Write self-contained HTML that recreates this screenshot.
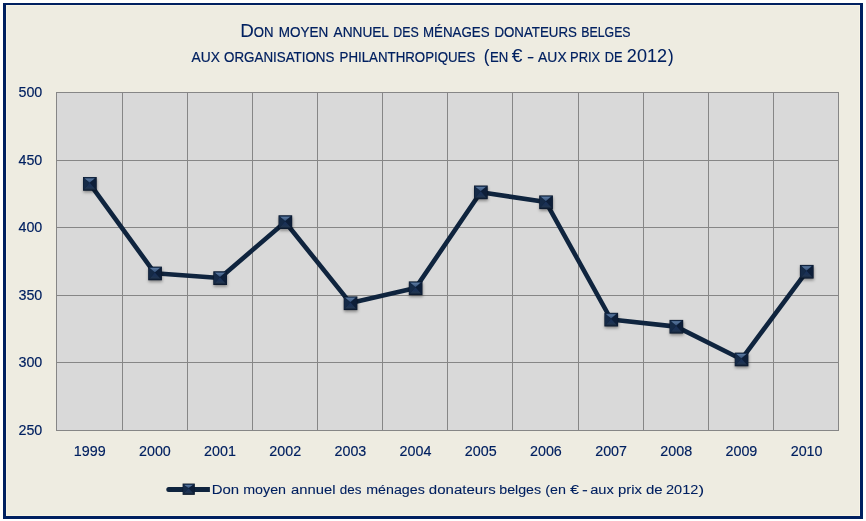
<!DOCTYPE html>
<html lang="fr">
<head>
<meta charset="utf-8">
<title>Don moyen annuel des ménages donateurs belges</title>
<style>
html,body{margin:0;padding:0;background:#ffffff;}
body{width:866px;height:521px;overflow:hidden;}
svg{display:block;}
text{font-family:"Liberation Sans",sans-serif;fill:#002060;stroke:#002060;stroke-width:0.2px;}
.ax text{stroke-width:0.15px;}
tspan.b{stroke-width:0.05px;}
text.lg{stroke-width:0.08px;}
</style>
</head>
<body>
<svg width="866" height="521" viewBox="0 0 866 521">
<defs>
<linearGradient id="gt" x1="0" y1="0" x2="0" y2="1"><stop offset="0" stop-color="#5c7aa0"/><stop offset="1" stop-color="#36527a"/></linearGradient>
<linearGradient id="gb" x1="0" y1="0" x2="0" y2="1"><stop offset="0" stop-color="#18305a"/><stop offset="0.5" stop-color="#1b3154"/><stop offset="0.72" stop-color="#21354f"/><stop offset="1" stop-color="#0e1c31"/></linearGradient>
<filter id="sh" x="-30%" y="-30%" width="170%" height="170%"><feGaussianBlur stdDeviation="1.4"/></filter>
</defs>

<rect x="0" y="0" width="866" height="521" fill="#ffffff"/>
<rect x="3" y="3" width="860" height="516" fill="#002060" shape-rendering="crispEdges"/>
<rect x="6" y="5" width="854" height="511" fill="#f6f3e6" shape-rendering="crispEdges"/>
<rect x="7" y="6" width="852" height="509" fill="#eeece1" shape-rendering="crispEdges"/>
<rect x="56" y="92" width="783" height="339" fill="#d9d9d9" shape-rendering="crispEdges"/>
<g fill="#868686" shape-rendering="crispEdges">
<rect x="56" y="92" width="1" height="339"/>
<rect x="122" y="92" width="1" height="339"/>
<rect x="187" y="92" width="1" height="339"/>
<rect x="252" y="92" width="1" height="339"/>
<rect x="317" y="92" width="1" height="339"/>
<rect x="382" y="92" width="1" height="339"/>
<rect x="447" y="92" width="1" height="339"/>
<rect x="512" y="92" width="1" height="339"/>
<rect x="578" y="92" width="1" height="339"/>
<rect x="643" y="92" width="1" height="339"/>
<rect x="708" y="92" width="1" height="339"/>
<rect x="773" y="92" width="1" height="339"/>
<rect x="838" y="92" width="1" height="339"/>
<rect x="56" y="92" width="783" height="1"/>
<rect x="56" y="160" width="783" height="1"/>
<rect x="56" y="227" width="783" height="1"/>
<rect x="56" y="295" width="783" height="1"/>
<rect x="56" y="362" width="783" height="1"/>
<rect x="56" y="430" width="783" height="1"/>
</g>
<text y="36.8" font-size="13.9"><tspan x="240.20" font-size="18.1" class="b" textLength="13.59" lengthAdjust="spacingAndGlyphs">D</tspan><tspan x="253.74" textLength="19.73" lengthAdjust="spacingAndGlyphs">ON</tspan> <tspan x="278.68" textLength="49.49" lengthAdjust="spacingAndGlyphs">MOYEN</tspan> <tspan x="333.53" textLength="54.96" lengthAdjust="spacingAndGlyphs">ANNUEL</tspan> <tspan x="393.26" textLength="25.44" lengthAdjust="spacingAndGlyphs">DES</tspan> <tspan x="422.97" textLength="66.58" lengthAdjust="spacingAndGlyphs">MÉNAGES</tspan> <tspan x="494.41" textLength="82.52" lengthAdjust="spacingAndGlyphs">DONATEURS</tspan> <tspan x="581.36" textLength="49.18" lengthAdjust="spacingAndGlyphs">BELGES</tspan></text>
<text y="61.6" font-size="13.9"><tspan x="191.60" textLength="28.33" lengthAdjust="spacingAndGlyphs">AUX</tspan> <tspan x="224.05" textLength="110.33" lengthAdjust="spacingAndGlyphs">ORGANISATIONS</tspan> <tspan x="339.61" textLength="135.68" lengthAdjust="spacingAndGlyphs">PHILANTHROPIQUES</tspan> <tspan x="483.80" font-size="18.1" class="b" textLength="5.65" lengthAdjust="spacingAndGlyphs">(</tspan><tspan x="490.04" textLength="18.25" lengthAdjust="spacingAndGlyphs">EN</tspan> <tspan x="511.86" font-size="18.1" class="b" textLength="10.66" lengthAdjust="spacingAndGlyphs">€</tspan> <tspan x="527.07" textLength="7.14" lengthAdjust="spacingAndGlyphs">-</tspan> <tspan x="538.12" textLength="28.52" lengthAdjust="spacingAndGlyphs">AUX</tspan> <tspan x="570.04" textLength="30.20" lengthAdjust="spacingAndGlyphs">PRIX</tspan> <tspan x="604.87" textLength="17.67" lengthAdjust="spacingAndGlyphs">DE</tspan> <tspan x="626.86" font-size="18.1" class="b" textLength="40.18" lengthAdjust="spacingAndGlyphs">2012</tspan><tspan x="667.95" font-size="18.1" class="b" textLength="5.65" lengthAdjust="spacingAndGlyphs">)</tspan></text>
<g font-size="14.3" text-anchor="end" class="ax">
<text x="42.3" y="97.0">500</text>
<text x="42.3" y="164.6">450</text>
<text x="42.3" y="232.2">400</text>
<text x="42.3" y="299.8">350</text>
<text x="42.3" y="367.4">300</text>
<text x="42.3" y="435.0">250</text>
</g>
<g font-size="14.3" text-anchor="middle" class="ax">
<text x="89.7" y="455.7">1999</text>
<text x="154.9" y="455.7">2000</text>
<text x="220.0" y="455.7">2001</text>
<text x="285.2" y="455.7">2002</text>
<text x="350.4" y="455.7">2003</text>
<text x="415.5" y="455.7">2004</text>
<text x="480.7" y="455.7">2005</text>
<text x="545.9" y="455.7">2006</text>
<text x="611.1" y="455.7">2007</text>
<text x="676.2" y="455.7">2008</text>
<text x="741.4" y="455.7">2009</text>
<text x="806.6" y="455.7">2010</text>
</g>
<polyline points="89.7,183.7 154.9,273.3 220.0,278.0 285.2,222.0 350.4,303.1 415.5,288.1 480.7,192.2 545.9,202.1 611.1,319.5 676.2,326.6 741.4,359.3 806.6,271.6" fill="none" stroke="#0f243e" stroke-width="4.6" stroke-linejoin="round" stroke-linecap="round"/>
<g filter="url(#sh)" fill="#000000" fill-opacity="0.38">
<rect x="83.35" y="178.75" width="13.7" height="13.7"/>
<rect x="148.55" y="268.35" width="13.7" height="13.7"/>
<rect x="213.65" y="273.05" width="13.7" height="13.7"/>
<rect x="278.85" y="217.05" width="13.7" height="13.7"/>
<rect x="344.05" y="298.15" width="13.7" height="13.7"/>
<rect x="409.15" y="283.15" width="13.7" height="13.7"/>
<rect x="474.35" y="187.25" width="13.7" height="13.7"/>
<rect x="539.55" y="197.15" width="13.7" height="13.7"/>
<rect x="604.75" y="314.55" width="13.7" height="13.7"/>
<rect x="669.85" y="321.65" width="13.7" height="13.7"/>
<rect x="735.05" y="354.35" width="13.7" height="13.7"/>
<rect x="800.25" y="266.65" width="13.7" height="13.7"/>
</g>
<g><rect x="83.00" y="177.00" width="13.70" height="13.70" fill="#0b192e"/><polygon points="83.50,177.50 89.65,182.85 83.50,190.20" fill="#152a47"/><polygon points="96.20,177.50 89.65,182.85 96.20,190.20" fill="#0d1e38"/><polygon points="83.50,190.20 89.65,182.85 96.20,190.20" fill="url(#gb)"/><polygon points="83.50,177.50 89.65,182.85 96.20,177.50" fill="#1b3354"/><polygon points="84.70,178.40 94.50,178.40 89.65,182.55" fill="url(#gt)"/></g>
<g><rect x="148.20" y="266.60" width="13.70" height="13.70" fill="#0b192e"/><polygon points="148.70,267.10 154.85,272.45 148.70,279.80" fill="#152a47"/><polygon points="161.40,267.10 154.85,272.45 161.40,279.80" fill="#0d1e38"/><polygon points="148.70,279.80 154.85,272.45 161.40,279.80" fill="url(#gb)"/><polygon points="148.70,267.10 154.85,272.45 161.40,267.10" fill="#1b3354"/><polygon points="149.90,268.00 159.70,268.00 154.85,272.15" fill="url(#gt)"/></g>
<g><rect x="213.30" y="271.30" width="13.70" height="13.70" fill="#0b192e"/><polygon points="213.80,271.80 219.95,277.15 213.80,284.50" fill="#152a47"/><polygon points="226.50,271.80 219.95,277.15 226.50,284.50" fill="#0d1e38"/><polygon points="213.80,284.50 219.95,277.15 226.50,284.50" fill="url(#gb)"/><polygon points="213.80,271.80 219.95,277.15 226.50,271.80" fill="#1b3354"/><polygon points="215.00,272.70 224.80,272.70 219.95,276.85" fill="url(#gt)"/></g>
<g><rect x="278.50" y="215.30" width="13.70" height="13.70" fill="#0b192e"/><polygon points="279.00,215.80 285.15,221.15 279.00,228.50" fill="#152a47"/><polygon points="291.70,215.80 285.15,221.15 291.70,228.50" fill="#0d1e38"/><polygon points="279.00,228.50 285.15,221.15 291.70,228.50" fill="url(#gb)"/><polygon points="279.00,215.80 285.15,221.15 291.70,215.80" fill="#1b3354"/><polygon points="280.20,216.70 290.00,216.70 285.15,220.85" fill="url(#gt)"/></g>
<g><rect x="343.70" y="296.40" width="13.70" height="13.70" fill="#0b192e"/><polygon points="344.20,296.90 350.35,302.25 344.20,309.60" fill="#152a47"/><polygon points="356.90,296.90 350.35,302.25 356.90,309.60" fill="#0d1e38"/><polygon points="344.20,309.60 350.35,302.25 356.90,309.60" fill="url(#gb)"/><polygon points="344.20,296.90 350.35,302.25 356.90,296.90" fill="#1b3354"/><polygon points="345.40,297.80 355.20,297.80 350.35,301.95" fill="url(#gt)"/></g>
<g><rect x="408.80" y="281.40" width="13.70" height="13.70" fill="#0b192e"/><polygon points="409.30,281.90 415.45,287.25 409.30,294.60" fill="#152a47"/><polygon points="422.00,281.90 415.45,287.25 422.00,294.60" fill="#0d1e38"/><polygon points="409.30,294.60 415.45,287.25 422.00,294.60" fill="url(#gb)"/><polygon points="409.30,281.90 415.45,287.25 422.00,281.90" fill="#1b3354"/><polygon points="410.50,282.80 420.30,282.80 415.45,286.95" fill="url(#gt)"/></g>
<g><rect x="474.00" y="185.50" width="13.70" height="13.70" fill="#0b192e"/><polygon points="474.50,186.00 480.65,191.35 474.50,198.70" fill="#152a47"/><polygon points="487.20,186.00 480.65,191.35 487.20,198.70" fill="#0d1e38"/><polygon points="474.50,198.70 480.65,191.35 487.20,198.70" fill="url(#gb)"/><polygon points="474.50,186.00 480.65,191.35 487.20,186.00" fill="#1b3354"/><polygon points="475.70,186.90 485.50,186.90 480.65,191.05" fill="url(#gt)"/></g>
<g><rect x="539.20" y="195.40" width="13.70" height="13.70" fill="#0b192e"/><polygon points="539.70,195.90 545.85,201.25 539.70,208.60" fill="#152a47"/><polygon points="552.40,195.90 545.85,201.25 552.40,208.60" fill="#0d1e38"/><polygon points="539.70,208.60 545.85,201.25 552.40,208.60" fill="url(#gb)"/><polygon points="539.70,195.90 545.85,201.25 552.40,195.90" fill="#1b3354"/><polygon points="540.90,196.80 550.70,196.80 545.85,200.95" fill="url(#gt)"/></g>
<g><rect x="604.40" y="312.80" width="13.70" height="13.70" fill="#0b192e"/><polygon points="604.90,313.30 611.05,318.65 604.90,326.00" fill="#152a47"/><polygon points="617.60,313.30 611.05,318.65 617.60,326.00" fill="#0d1e38"/><polygon points="604.90,326.00 611.05,318.65 617.60,326.00" fill="url(#gb)"/><polygon points="604.90,313.30 611.05,318.65 617.60,313.30" fill="#1b3354"/><polygon points="606.10,314.20 615.90,314.20 611.05,318.35" fill="url(#gt)"/></g>
<g><rect x="669.50" y="319.90" width="13.70" height="13.70" fill="#0b192e"/><polygon points="670.00,320.40 676.15,325.75 670.00,333.10" fill="#152a47"/><polygon points="682.70,320.40 676.15,325.75 682.70,333.10" fill="#0d1e38"/><polygon points="670.00,333.10 676.15,325.75 682.70,333.10" fill="url(#gb)"/><polygon points="670.00,320.40 676.15,325.75 682.70,320.40" fill="#1b3354"/><polygon points="671.20,321.30 681.00,321.30 676.15,325.45" fill="url(#gt)"/></g>
<g><rect x="734.70" y="352.60" width="13.70" height="13.70" fill="#0b192e"/><polygon points="735.20,353.10 741.35,358.45 735.20,365.80" fill="#152a47"/><polygon points="747.90,353.10 741.35,358.45 747.90,365.80" fill="#0d1e38"/><polygon points="735.20,365.80 741.35,358.45 747.90,365.80" fill="url(#gb)"/><polygon points="735.20,353.10 741.35,358.45 747.90,353.10" fill="#1b3354"/><polygon points="736.40,354.00 746.20,354.00 741.35,358.15" fill="url(#gt)"/></g>
<g><rect x="799.90" y="264.90" width="13.70" height="13.70" fill="#0b192e"/><polygon points="800.40,265.40 806.55,270.75 800.40,278.10" fill="#152a47"/><polygon points="813.10,265.40 806.55,270.75 813.10,278.10" fill="#0d1e38"/><polygon points="800.40,278.10 806.55,270.75 813.10,278.10" fill="url(#gb)"/><polygon points="800.40,265.40 806.55,270.75 813.10,265.40" fill="#1b3354"/><polygon points="801.60,266.30 811.40,266.30 806.55,270.45" fill="url(#gt)"/></g>
<line x1="168.8" y1="489.4" x2="209.9" y2="489.4" stroke="#0f243e" stroke-width="5"/>
<circle cx="168.8" cy="489.4" r="2.5" fill="#0f243e"/>
<g><rect x="182.60" y="483.55" width="12.20" height="11.30" fill="#0b192e"/><polygon points="183.10,484.05 188.50,488.20 183.10,494.35" fill="#152a47"/><polygon points="194.30,484.05 188.50,488.20 194.30,494.35" fill="#0d1e38"/><polygon points="183.10,494.35 188.50,488.20 194.30,494.35" fill="url(#gb)"/><polygon points="183.10,484.05 188.50,488.20 194.30,484.05" fill="#1b3354"/><polygon points="184.30,484.95 192.60,484.95 188.50,487.90" fill="url(#gt)"/></g>
<text class="lg" y="494.0" font-size="13.7"><tspan x="211.76" textLength="27.40" lengthAdjust="spacingAndGlyphs">Don</tspan> <tspan x="243.15" textLength="42.95" lengthAdjust="spacingAndGlyphs">moyen</tspan> <tspan x="291.03" textLength="44.45" lengthAdjust="spacingAndGlyphs">annuel</tspan> <tspan x="339.84" textLength="21.66" lengthAdjust="spacingAndGlyphs">des</tspan> <tspan x="366.24" textLength="58.55" lengthAdjust="spacingAndGlyphs">ménages</tspan> <tspan x="428.89" textLength="66.82" lengthAdjust="spacingAndGlyphs">donateurs</tspan> <tspan x="499.23" textLength="41.93" lengthAdjust="spacingAndGlyphs">belges</tspan> <tspan x="545.20" textLength="20.72" lengthAdjust="spacingAndGlyphs">(en</tspan> <tspan x="570.15" textLength="8.79" lengthAdjust="spacingAndGlyphs">€</tspan> <tspan x="582.13" textLength="5.78" lengthAdjust="spacingAndGlyphs">-</tspan> <tspan x="590.15" textLength="23.63" lengthAdjust="spacingAndGlyphs">aux</tspan> <tspan x="618.02" textLength="23.98" lengthAdjust="spacingAndGlyphs">prix</tspan> <tspan x="645.96" textLength="16.71" lengthAdjust="spacingAndGlyphs">de</tspan> <tspan x="666.05" textLength="32.29" lengthAdjust="spacingAndGlyphs">2012</tspan><tspan x="698.45" textLength="5.59" lengthAdjust="spacingAndGlyphs">)</tspan></text>
</svg>
</body>
</html>
